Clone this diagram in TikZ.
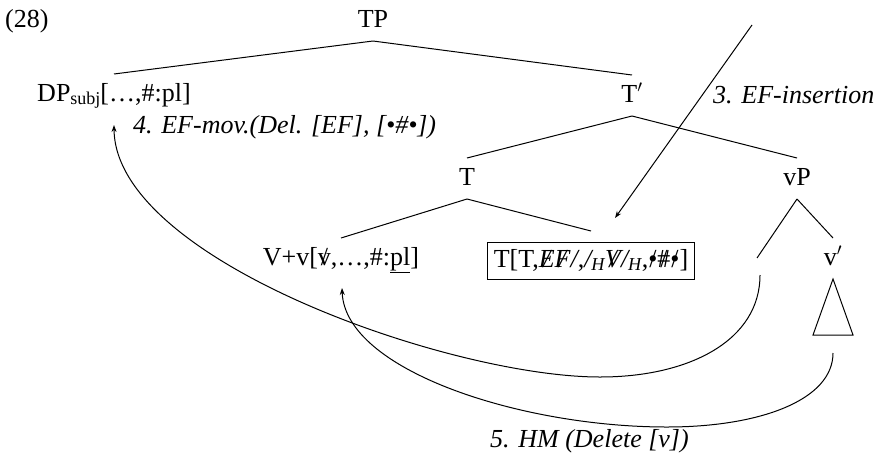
\documentclass[tikz,border=0pt]{standalone}
\usepackage{fontspec}
\setmainfont{Liberation Serif}
\usetikzlibrary{arrows.meta}
\newcommand\ostrike[1]{\ooalign{#1\cr\hidewidth/\hidewidth}}
\begin{document}
\begin{tikzpicture}[x=1pt,y=-1pt,
  font=\fontsize{26}{30}\selectfont,
  tn/.style={anchor=base, text height=19pt, text depth=6pt, inner sep=3pt, outer sep=5pt},
  lab/.style={anchor=base west, font=\fontsize{26}{30}\selectfont\itshape, inner sep=0pt},
  edge/.style={line width=1pt},
  mv/.style={line width=1pt, -{Stealth[length=7pt,width=5pt]}}]
\useasboundingbox (0,0) rectangle (890,466);

\node[anchor=base west, inner sep=0pt] (ex) at (5,27) {(28)};

\node[tn] (TP) at (373,27) {TP};
\node[tn] (DP) at (114,101) {DP\raisebox{-0.3ex}{\fontsize{18}{20}\selectfont subj}[\ldots,\#:pl]};
\node[tn] (Tbar) at (632,102) {T$'$};
\node[tn] (T) at (467,185) {T};
\node[tn] (vP) at (797,185) {vP};
\node[tn] (Vv) at (341,265) {V+v[\ostrike{v},\ldots,\#:\underline{pl}]};
\node[anchor=base, draw, line width=1pt, text height=19pt, text depth=6pt, inner sep=6pt, outer sep=11pt]
  (box) at (591,267) {T[T,{\itshape\ostrike{E}\ostrike{F}/},{\itshape /\textsubscript{H}\ostrike{V}/\textsubscript{H}},\ostrike{•}\ostrike{\#}\ostrike{•}]};
\node[tn] (vbar) at (833,265) {v$'$};
\coordinate (spec) at (757,258);
\coordinate (spectrace) at (760,275);
\coordinate (vtrace) at (833,353);
\coordinate (efsrc) at (752,25);

% tree edges
\draw[edge] (TP.south) -- (DP.north);
\draw[edge] (TP.south) -- (Tbar.north);
\draw[edge] (Tbar.south) -- (T.north);
\draw[edge] (Tbar.south) -- (vP.north);
\draw[edge] (T.south) -- (Vv.north);
\draw[edge] (T.south) -- (box.north);
\draw[edge] (vP.south) -- (spec);
\draw[edge] (vP.south) -- (vbar.north);
\draw[edge] (vbar.south) -- ++(-20,56) -- ++(40,0) -- cycle;

% movement arrows
\draw[mv] (efsrc) -- ([xshift=24pt,yshift=13pt]box.north);
\draw[mv] (spectrace) .. controls (760,340) and (690,377) .. (600,377)
  .. controls (450,377) and (115,260) .. ([yshift=-24pt]DP.base);
\draw[mv] (vtrace) .. controls (833,400) and (760,427) .. (667,427)
  .. controls (520,427) and (345,370) .. ([xshift=1pt,yshift=-23pt]Vv.base);

% labels
\node[lab] (l3) at (713,103) {3. EF-insertion};
\node[lab] (l4) at (133,133) {4. EF-mov.(Del. [EF], [•\#•])};
\node[lab] (l5) at (490,447) {5. HM (Delete [v])};
\end{tikzpicture}
\end{document}
